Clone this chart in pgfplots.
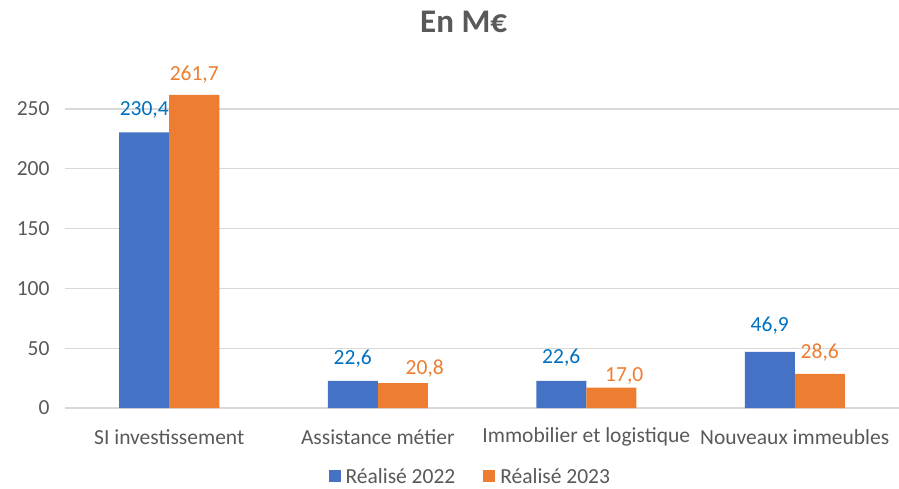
\documentclass[border=0pt]{standalone}
\usepackage{pgfplots}
\pgfplotsset{compat=1.18}
\usepackage{pgfplotstable}
\usepackage{fontspec}
\setmainfont{Carlito}

\definecolor{bleu}{HTML}{4472C4}
\definecolor{orange}{HTML}{ED7D31}
\definecolor{bleutexte}{HTML}{0070C0}
\definecolor{gristexte}{HTML}{595959}
\definecolor{grisgrille}{HTML}{D9D9D9}

% x, valeur, decalage de l'etiquette (dx, dy en pt)
\pgfplotstableread{
x y dx dy
0 230.4 0 22
1 22.6 0 22
2 22.6 0 23
3 46.9 0 26
}\reelA
\pgfplotstableread{
x y dx dy
0 261.7 0 20
1 20.8 22 15
2 17.0 13 12
3 28.6 0 21
}\reelB

\begin{document}
\begin{tikzpicture}
\path[use as bounding box] (-65pt,-80pt) rectangle (834pt,408pt);
\begin{axis}[
	at={(0pt,0pt)}, anchor=south west,
	scale only axis,
	width=834pt, height=323pt,
	xmin=-0.5, xmax=3.5,
	ymin=0, ymax=270,
	ybar=0pt, bar width=50pt,
	clip=false,
	axis line style={draw=none},
	major tick length=0pt,
	ymajorgrids,
	grid style={draw=grisgrille, line width=1.3pt},
	ytick={0,50,...,250},
	xtick={0,1,2,3},
	xticklabels={SI investissement, Assistance métier, Immobilier et logistique, Nouveaux immeubles},
	tick label style={font=\fontsize{21.5}{26}\selectfont, text=gristexte},
	xticklabel style={anchor=center, yshift=-29pt},
	yticklabel style={anchor=east, xshift=-12pt},
	/pgf/number format/assume math mode=true,
	title={\textbf{En M€}},
	title style={at={(0.478,1.176)}, anchor=center, font=\fontsize{33}{40}\selectfont, text=gristexte},
	legend style={at={(0.486,-0.212)}, anchor=center, legend columns=-1, draw=none,
		font=\fontsize{21.5}{26}\selectfont, text=gristexte, inner sep=0pt,
		/tikz/every odd column/.append style={column sep=3pt},
		/tikz/every even column/.append style={column sep=26pt}},
	legend image code/.code={\fill[#1] (0pt,-6pt) rectangle (12pt,6pt);},
	nodes near coords,
	nodes near coords style={/pgf/number format/fixed, /pgf/number format/fixed zerofill,
		/pgf/number format/precision=1, /pgf/number format/use comma},
	every node near coord/.append style={font=\fontsize{21.5}{26}\selectfont, anchor=center},
]
\addplot[fill=bleu, draw=none,
	visualization depends on={\thisrow{dx} \as \dx},
	visualization depends on={\thisrow{dy} \as \dy},
	every node near coord/.append style={text=bleutexte, xshift=\dx pt, yshift=\dy pt}]
	table[x=x, y=y] {\reelA};
\addplot[fill=orange, draw=none,
	visualization depends on={\thisrow{dx} \as \dx},
	visualization depends on={\thisrow{dy} \as \dy},
	every node near coord/.append style={text=orange, xshift=\dx pt, yshift=\dy pt}]
	table[x=x, y=y] {\reelB};
\legend{Réalisé 2022, Réalisé 2023}
\end{axis}
\end{tikzpicture}
\end{document}
